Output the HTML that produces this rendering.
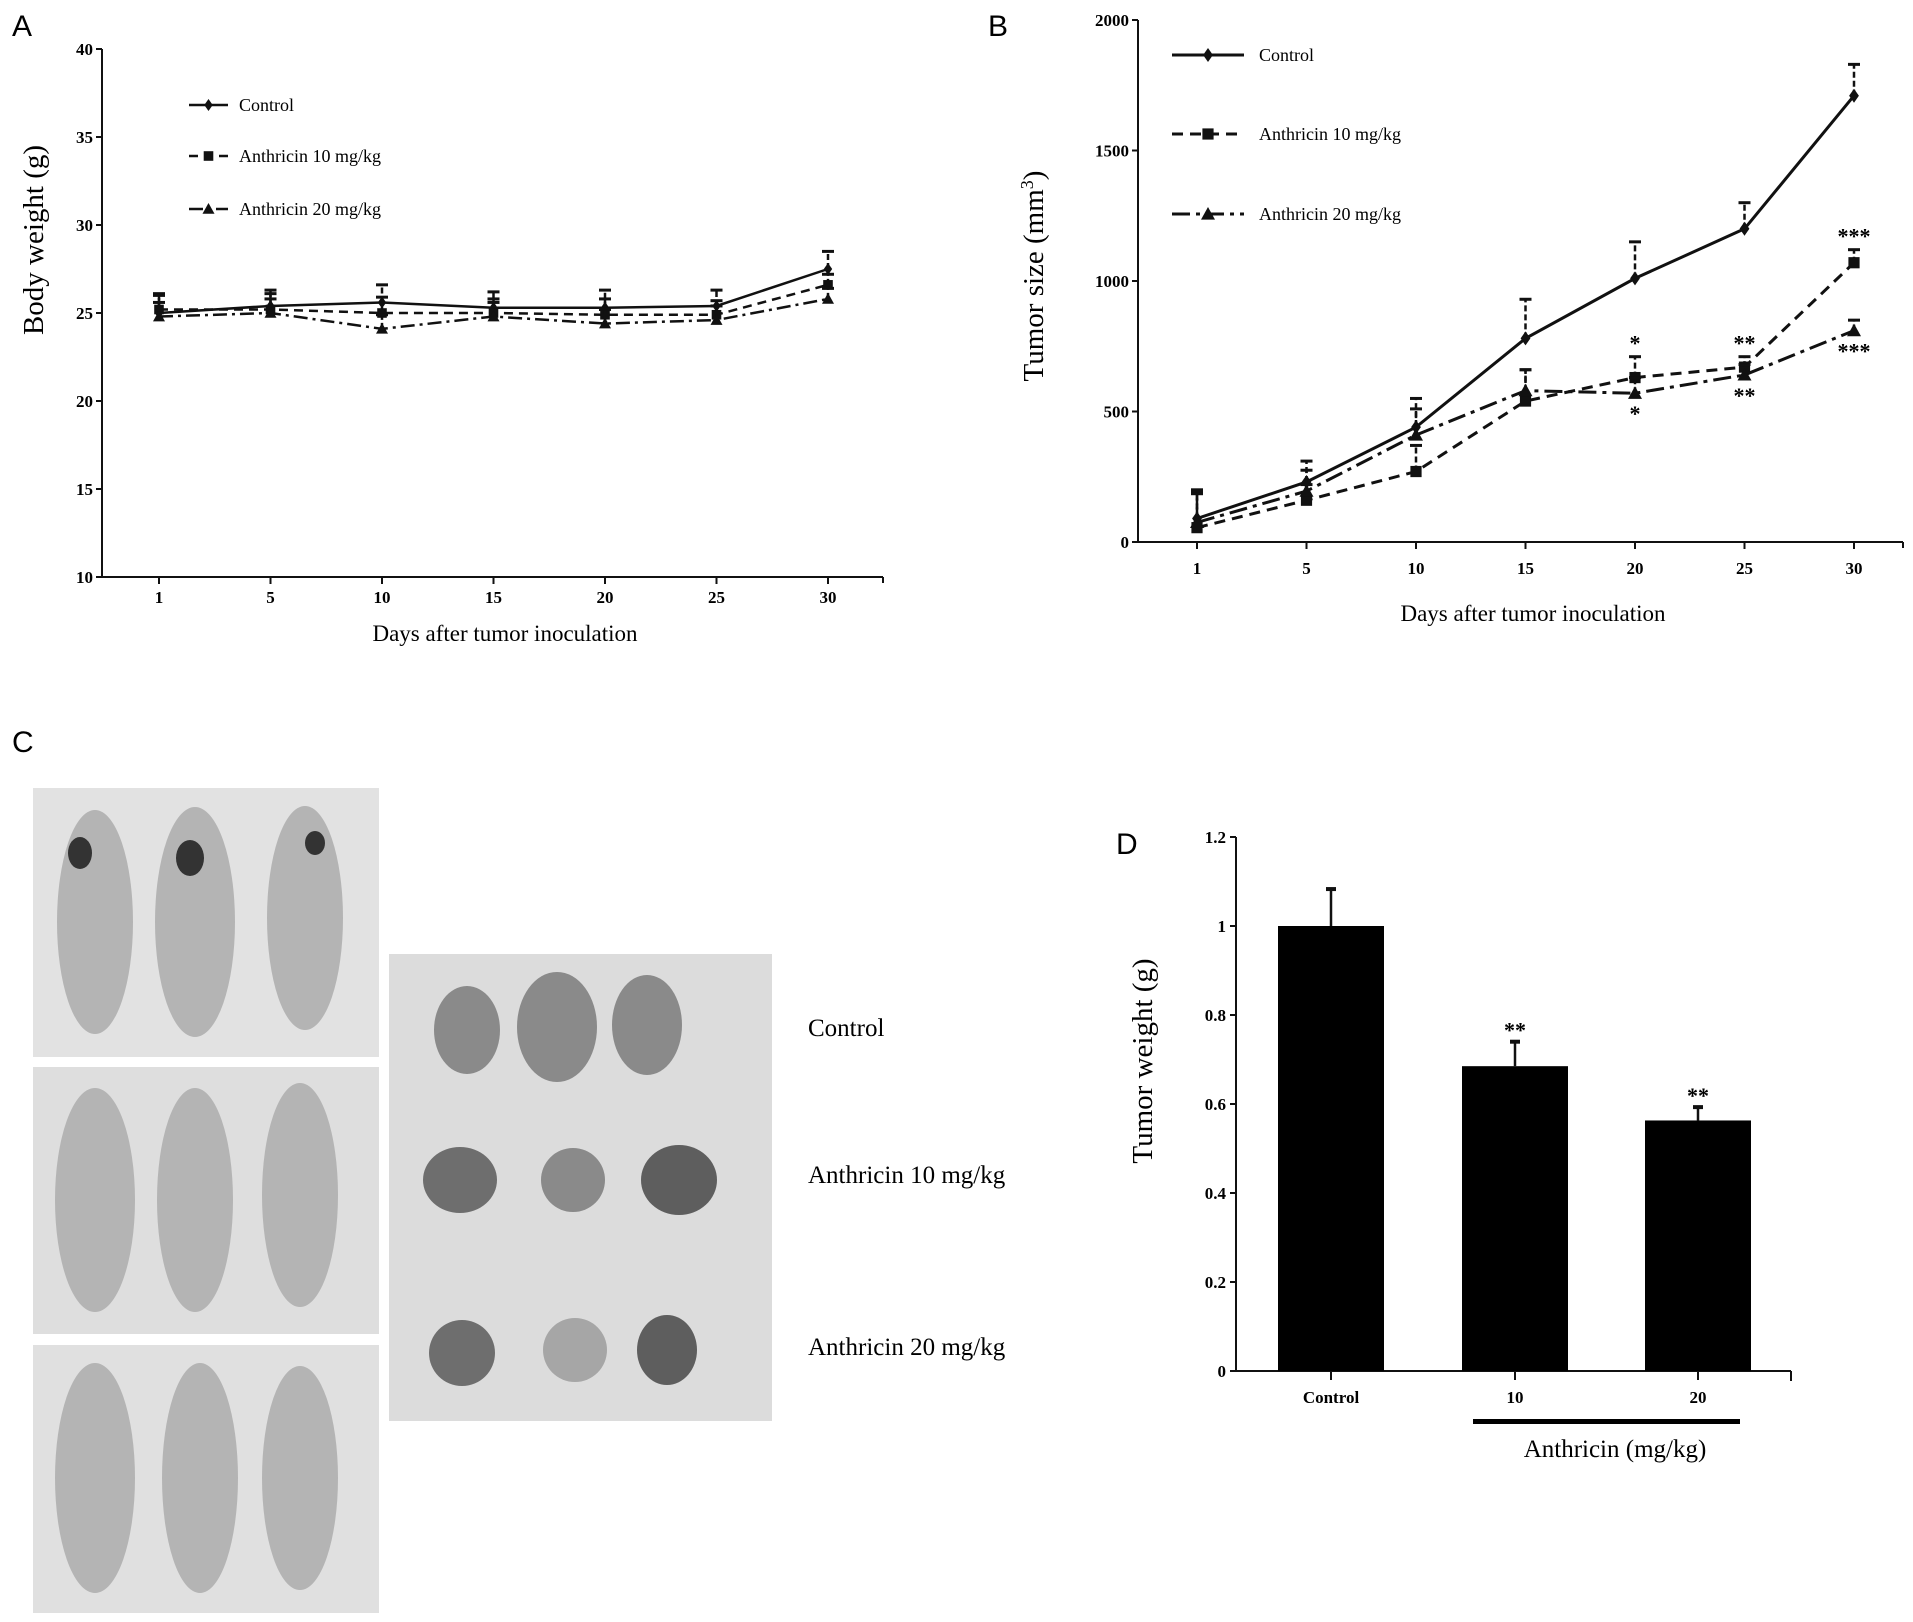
<!DOCTYPE html>
<html><head><meta charset="utf-8"><style>
html,body{margin:0;padding:0;background:#fff;}
svg{display:block;font-family:"Liberation Serif",serif;}
.tk{font-weight:bold;font-size:17px;}
</style></head><body>
<svg id="fig" width="1913" height="1622" viewBox="0 0 1913 1622" xmlns="http://www.w3.org/2000/svg">
<g id="panelA"></g>
<g id="panelB"></g>
<g id="panelC">
  <text x="12" y="752" font-family="Liberation Sans" font-size="30">C</text>
  <rect x="33" y="788" width="346" height="269" fill="#e2e2e2"/>
  <rect x="33" y="1067" width="346" height="267" fill="#dedede"/>
  <rect x="33" y="1345" width="346" height="268" fill="#e0e0e0"/>
  <g fill="#b4b4b4">
    <ellipse cx="95" cy="922" rx="38" ry="112"/><ellipse cx="195" cy="922" rx="40" ry="115"/><ellipse cx="305" cy="918" rx="38" ry="112"/>
    <ellipse cx="95" cy="1200" rx="40" ry="112"/><ellipse cx="195" cy="1200" rx="38" ry="112"/><ellipse cx="300" cy="1195" rx="38" ry="112"/>
    <ellipse cx="95" cy="1478" rx="40" ry="115"/><ellipse cx="200" cy="1478" rx="38" ry="115"/><ellipse cx="300" cy="1478" rx="38" ry="112"/>
  </g>
  <ellipse cx="80" cy="853" rx="12" ry="16" fill="#333"/><ellipse cx="190" cy="858" rx="14" ry="18" fill="#333"/><ellipse cx="315" cy="843" rx="10" ry="12" fill="#333"/>
  <rect x="389" y="954" width="383" height="467" fill="#dcdcdc"/>
  <g fill="#8a8a8a">
    <ellipse cx="467" cy="1030" rx="33" ry="44"/><ellipse cx="557" cy="1027" rx="40" ry="55"/><ellipse cx="647" cy="1025" rx="35" ry="50"/>
    <ellipse cx="460" cy="1180" rx="37" ry="33" fill="#6e6e6e"/><ellipse cx="573" cy="1180" rx="32" ry="32"/><ellipse cx="679" cy="1180" rx="38" ry="35" fill="#5e5e5e"/>
    <ellipse cx="462" cy="1353" rx="33" ry="33" fill="#6e6e6e"/><ellipse cx="575" cy="1350" rx="32" ry="32" fill="#a6a6a6"/><ellipse cx="667" cy="1350" rx="30" ry="35" fill="#5e5e5e"/>
  </g>
  <text x="808" y="1036" font-size="25">Control</text>
  <text x="808" y="1183" font-size="25">Anthricin 10 mg/kg</text>
  <text x="808" y="1355" font-size="25">Anthricin 20 mg/kg</text>
</g>
<g id="panelD"></g>
</svg>
<script>
const NS="http://www.w3.org/2000/svg";
function mk(parent,tag,attrs,text){const e=document.createElementNS(NS,tag);for(const k in attrs)e.setAttribute(k,attrs[k]);if(text!==undefined)e.textContent=text;parent.appendChild(e);return e;}

// ===== Panel A data =====
const daysA=[1,5,10,15,20,25,30];
const controlA=[25.0,25.4,25.6,25.3,25.3,25.4,27.5];
const controlAErr=[1.1,0.9,1.0,0.9,1.0,0.9,1.0];
const low10A=[25.2,25.2,25.0,25.0,24.9,24.9,26.6];
const low10AErr=[0.8,0.9,0.9,0.8,0.9,0.8,0.6];
const high20A=[24.8,25.0,24.1,24.8,24.4,24.6,25.8];
const high20AErr=[0.8,0.8,0.8,0.8,0.8,0.8,0.6];
const yTicksA=[10,15,20,25,30,35,40];

// ===== Panel B data =====
const daysB=[1,5,10,15,20,25,30];
const controlB=[90,230,440,780,1010,1200,1710];
const controlBErr=[110,80,110,150,140,100,120];
const low10B=[55,160,270,540,630,670,1070];
const low10BErr=[140,60,100,120,80,40,50];
const high20B=[75,195,410,580,570,640,810];
const high20BErr=[110,80,100,80,60,40,40];
const starsB10=["","","","","*","**","***"];
const starsB20=["","","","","*","**","***"];
const yTicksB=[0,500,1000,1500,2000];

// ===== Panel D data =====
const groupsD=["Control","10","20"];
const weightsD=[1.0,0.685,0.563];
const weightsDErr=[0.083,0.055,0.03];
const starsD=["","**","**"];
const yTicksD=[0,0.2,0.4,0.6,0.8,1,1.2];

function lineChart(g,o){
  const xs=i=>o.x0+(o.x1-o.x0)*i/(o.cats.length-1);
  const ys=v=>o.yB+(o.yT-o.yB)*(v-o.ymin)/(o.ymax-o.ymin);
  let e=mk(g,'line',{x1:o.ax,y1:o.yT,x2:o.ax,y2:o.yB,stroke:'#111','stroke-width':2});
  
  e=mk(g,'line',{x1:o.ax,y1:o.yB,x2:o.axEnd,y2:o.yB,stroke:'#111','stroke-width':2});
  
  mk(g,'line',{x1:o.axEnd,y1:o.yB,x2:o.axEnd,y2:o.yB+6,stroke:'#111','stroke-width':2});
  o.yTicks.forEach(t=>{const y=ys(t);
    mk(g,'line',{x1:o.ax-6,y1:y,x2:o.ax,y2:y,stroke:'#111','stroke-width':2});
    e=mk(g,'text',{x:o.ax-9,y:y+6,'text-anchor':'end',class:'tk'},String(t));
    });
  o.cats.forEach((c,i)=>{const x=xs(i);
    mk(g,'line',{x1:x,y1:o.yB,x2:x,y2:o.yB+7,stroke:'#111','stroke-width':2});
    e=mk(g,'text',{x:x,y:o.yB+o.lblOff,'text-anchor':'middle',class:'tk'},String(c));
    });
  o.series.forEach(s=>{
    const pts=s.v.map((v,i)=>xs(i)+','+ys(v)).join(' ');
    e=mk(g,'polyline',{points:pts,fill:'none',stroke:'#111','stroke-width':o.sw,'stroke-dasharray':s.dash});
    
    s.v.forEach((v,i)=>{const x=xs(i),y=ys(v),yt=ys(v+s.err[i]);
      mk(g,'line',{x1:x,y1:y,x2:x,y2:yt,stroke:'#111','stroke-width':2.5,'stroke-dasharray':'6,3'});
      mk(g,'line',{x1:x-6,y1:yt,x2:x+6,y2:yt,stroke:'#111','stroke-width':3});
      const m=marker(g,s.mk,x,y,o.ms);
      
      if(s.stars&&s.stars[i]){const above=s.starsAbove;
        const t=mk(g,'text',{x:x,y:above?yt-6:y+28,'text-anchor':'middle','font-size':22,'font-weight':'bold'},s.stars[i]);
        }
    });
  });
  o.series.forEach((s,k)=>{const y=o.legY[k];
    const l=mk(g,'line',{x1:o.legX0,y1:y,x2:o.legX1,y2:y,stroke:'#111','stroke-width':o.sw,'stroke-dasharray':s.dash});
    
    marker(g,s.mk,(o.legX0+o.legX1)/2,y,o.ms);
    const t=mk(g,'text',{x:o.legTx,y:y+6,'font-size':o.legFs},s.label);
    });
}
function marker(g,t,x,y,s){
  if(t==='d')return mk(g,'polygon',{points:`${x},${y-s} ${x+s*0.7},${y} ${x},${y+s} ${x-s*0.7},${y}`,fill:'#111'});
  if(t==='s')return mk(g,'rect',{x:x-s*0.8,y:y-s*0.8,width:s*1.6,height:s*1.6,fill:'#111'});
  return mk(g,'polygon',{points:`${x},${y-s} ${x+s},${y+s*0.8} ${x-s},${y+s*0.8}`,fill:'#111'});
}

// Panel A
(function(){const g=document.getElementById('panelA');
  let e=mk(g,'text',{x:12,y:36,'font-family':'Liberation Sans','font-size':30},'A');
  lineChart(g,{cats:daysA,x0:159,x1:828,ax:102,axEnd:883,yT:49,yB:577,ymin:10,ymax:40,yTicks:yTicksA,sw:2.5,ms:6,lblOff:26,
    legX0:189,legX1:228,legTx:239,legY:[105,156,209],legFs:18,
    series:[{name:'control',label:'Control',v:controlA,err:controlAErr,dash:'none',mk:'d'},
            {name:'anthricin-10',label:'Anthricin 10 mg/kg',v:low10A,err:low10AErr,dash:'9,6',mk:'s'},
            {name:'anthricin-20',label:'Anthricin 20 mg/kg',v:high20A,err:high20AErr,dash:'14,5,3,5',mk:'t'}]});
  e=mk(g,'text',{x:505,y:641,'text-anchor':'middle','font-size':23},'Days after tumor inoculation');
  e=mk(g,'text',{x:0,y:0,transform:'translate(43,240) rotate(-90)','text-anchor':'middle','font-size':29},'Body weight (g)');
})();
// Panel B
(function(){const g=document.getElementById('panelB');
  let e=mk(g,'text',{x:988,y:36,'font-family':'Liberation Sans','font-size':30},'B');
  lineChart(g,{cats:daysB,x0:1197,x1:1854,ax:1138,axEnd:1903,yT:20,yB:542,ymin:0,ymax:2000,yTicks:yTicksB,sw:3,ms:7,lblOff:32,
    legX0:1172,legX1:1244,legTx:1259,legY:[55,134,214],legFs:18,
    series:[{name:'control',label:'Control',v:controlB,err:controlBErr,dash:'none',mk:'d'},
            {name:'anthricin-10',label:'Anthricin 10 mg/kg',v:low10B,err:low10BErr,dash:'11,7',mk:'s',stars:starsB10,starsAbove:true},
            {name:'anthricin-20',label:'Anthricin 20 mg/kg',v:high20B,err:high20BErr,dash:'18,6,4,6',mk:'t',stars:starsB20,starsAbove:false}]});
  e=mk(g,'text',{x:1533,y:621,'text-anchor':'middle','font-size':23},'Days after tumor inoculation');
  const t=mk(g,'text',{x:0,y:0,transform:'translate(1043,276) rotate(-90)','text-anchor':'middle','font-size':29},'Tumor size (mm');
  mk(t,'tspan',{'baseline-shift':'super','font-size':18},'3');mk(t,'tspan',{},')');
  
})();
// Panel D
(function(){const g=document.getElementById('panelD');
  const ax=1236,axEnd=1791,yT=837,yB=1371,ymax=1.2;
  const centers=[1331,1515,1698],bw=106;
  const ys=v=>yB-(yB-yT)*v/ymax;
  let e=mk(g,'text',{x:1116,y:854,'font-family':'Liberation Sans','font-size':30},'D');
  e=mk(g,'line',{x1:ax,y1:yT,x2:ax,y2:yB,stroke:'#111','stroke-width':2});
  e=mk(g,'line',{x1:ax,y1:yB,x2:axEnd,y2:yB,stroke:'#111','stroke-width':2});
  mk(g,'line',{x1:axEnd,y1:yB,x2:axEnd,y2:yB+10,stroke:'#111','stroke-width':2});
  yTicksD.forEach(t=>{const y=ys(t);mk(g,'line',{x1:ax-6,y1:y,x2:ax,y2:y,stroke:'#111','stroke-width':2});
    e=mk(g,'text',{x:ax-10,y:y+6,'text-anchor':'end',class:'tk'},String(t));});
  groupsD.forEach((c,i)=>{const x=centers[i],v=weightsD[i],y=ys(v),yt=ys(v+weightsDErr[i]);
    e=mk(g,'rect',{x:x-bw/2,y:y,width:bw,height:yB-y,fill:'#000'});
    mk(g,'line',{x1:x,y1:y,x2:x,y2:yt,stroke:'#111','stroke-width':2.5});
    mk(g,'line',{x1:x-5,y1:yt,x2:x+5,y2:yt,stroke:'#111','stroke-width':4});
    mk(g,'line',{x1:x,y1:yB,x2:x,y2:yB+9,stroke:'#111','stroke-width':2});
    e=mk(g,'text',{x:x,y:yB+32,'text-anchor':'middle',class:'tk'},c);
    if(starsD[i]){e=mk(g,'text',{x:x,y:yt-4,'text-anchor':'middle','font-size':22,'font-weight':'bold'},starsD[i]);}
  });
  e=mk(g,'rect',{x:1473,y:1419,width:267,height:5,fill:'#000'});
  e=mk(g,'text',{x:1615,y:1457,'text-anchor':'middle','font-size':25},'Anthricin (mg/kg)');
  e=mk(g,'text',{x:0,y:0,transform:'translate(1152,1061) rotate(-90)','text-anchor':'middle','font-size':29},'Tumor weight (g)');
})();
</script>
</body></html>
